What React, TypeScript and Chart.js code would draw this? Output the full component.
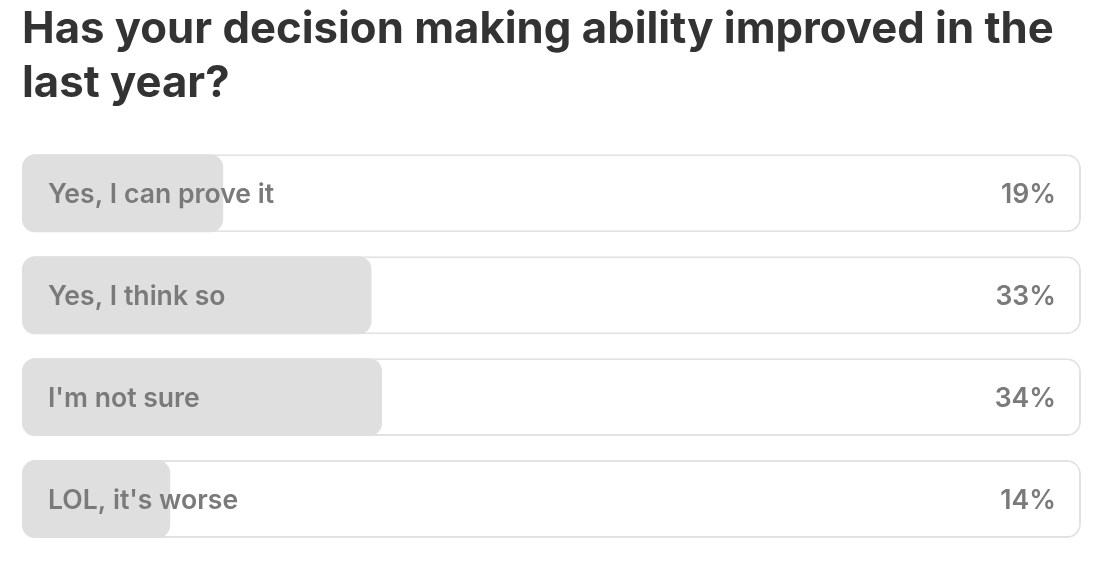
import React, { useEffect, useRef } from "react";
import { Chart, registerables } from "chart.js";

Chart.register(...registerables);

const titleLines = ["Has your decision making ability improved in the", "last year?"];
const categories = ["Yes, I can prove it", "Yes, I think so", "I'm not sure", "LOL, it's worse"];
const percents = [19, 33, 34, 14];
const trackValues = [100, 100, 100, 100];

const FONT = "Inter, 'Noto Sans', Arial, sans-serif";

const labelPlugin = {
  id: "pollLabels",
  afterDatasetsDraw(chart: any) {
    const { ctx, chartArea } = chart;
    const meta = chart.getDatasetMeta(0);
    ctx.save();
    ctx.fillStyle = "#7a7a7a";
    ctx.textBaseline = "middle";
    meta.data.forEach((bar: any, i: number) => {
      const y = bar.y + 1.5;
      ctx.font = `600 26.6px ${FONT}`;
      ctx.textAlign = "left";
      ctx.fillText(categories[i], chartArea.left + 26, y);
      ctx.textAlign = "right";
      ctx.fillText(`${percents[i]}%`, chartArea.right - 25, y);
    });
    ctx.restore();
  },
};

export default function App() {
  const ref = useRef<HTMLCanvasElement>(null);
  useEffect(() => {
    if (!ref.current) return;
    const chart = new Chart(ref.current, {
      type: "bar",
      data: {
        labels: categories,
        datasets: [
          {
            data: percents,
            backgroundColor: "#dfdfdf",
            borderWidth: 0,
            borderRadius: 13,
            borderSkipped: false,
            grouped: false,
            order: 1,
            categoryPercentage: 1,
            barPercentage: 0.765,
          },
          {
            data: trackValues,
            backgroundColor: "#ffffff",
            borderColor: "#e2e2e2",
            borderWidth: 2,
            borderRadius: 14,
            borderSkipped: false,
            grouped: false,
            order: 2,
            categoryPercentage: 1,
            barPercentage: 0.765,
          },
        ],
      },
      options: {
        indexAxis: "y",
        animation: false,
        responsive: true,
        maintainAspectRatio: false,
        layout: { padding: { left: 22, right: 19, top: 0, bottom: 14 } },
        scales: {
          x: { display: false, min: 0, max: 100 },
          y: { display: false },
        },
        plugins: {
          legend: { display: false },
          tooltip: { enabled: false },
          title: {
            display: true,
            text: titleLines,
            align: "start",
            color: "#333333",
            font: { family: FONT, size: 43.7, weight: "bold", lineHeight: 1.24 },
            padding: { top: 3, bottom: 31 },
          },
        },
      },
      plugins: [labelPlugin],
    });
    return () => chart.destroy();
  }, []);
  return (
    <div style={{ position: "fixed", left: 0, top: 0, width: 1100, height: 564, background: "#fff" }}>
      <canvas ref={ref} />
    </div>
  );
}
